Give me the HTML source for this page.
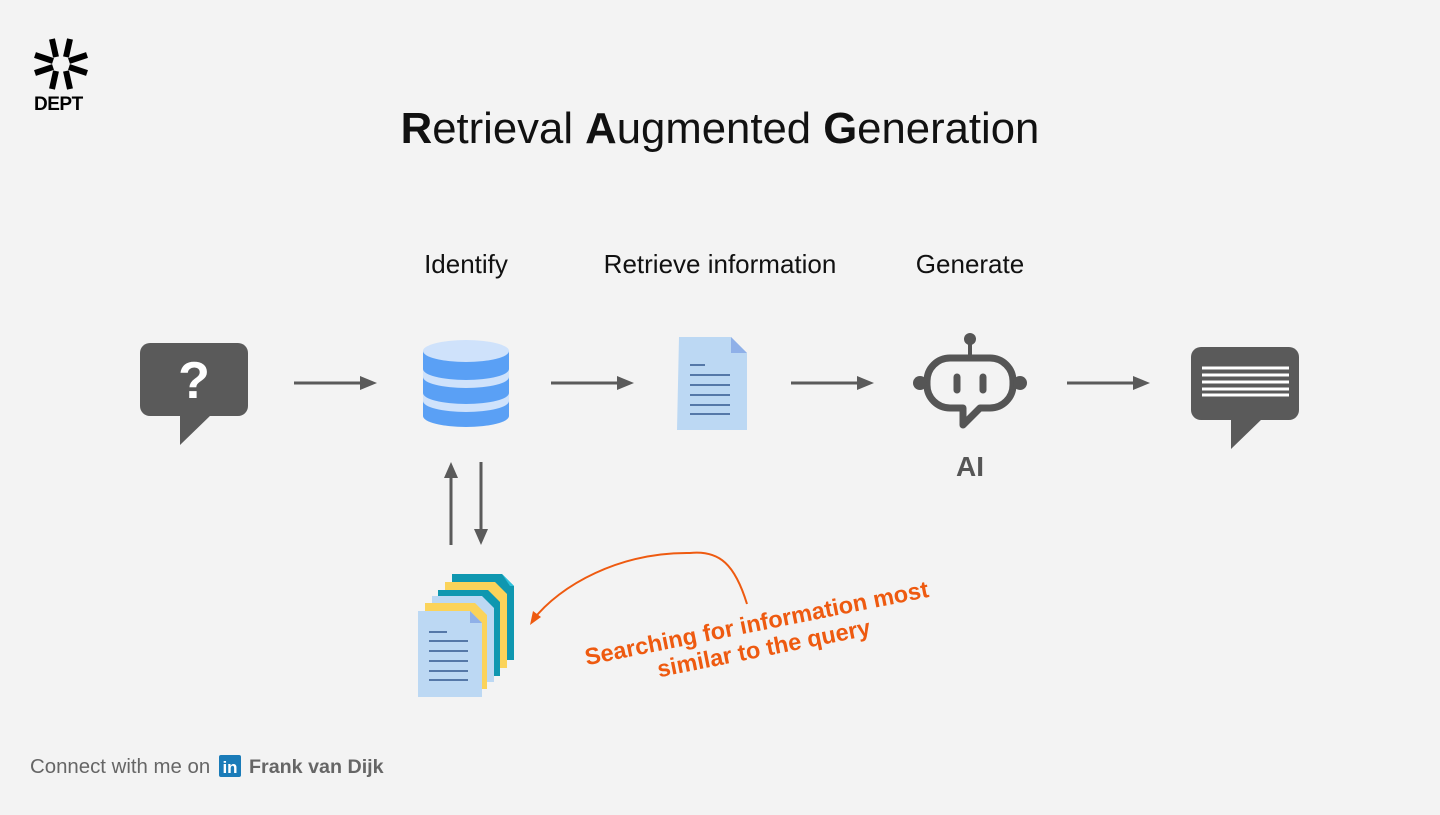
<!DOCTYPE html>
<html><head><meta charset="utf-8"><style>
html,body{margin:0;padding:0;background:#f3f3f3;}
body{width:1440px;height:810px;overflow:hidden;font-family:"Liberation Sans",Arial,sans-serif;}
</style></head><body>
<svg width="1440" height="810" viewBox="0 0 1440 810" xmlns="http://www.w3.org/2000/svg" font-family="Liberation Sans, Arial, sans-serif">
<rect width="1440" height="810" fill="#f3f3f3"/>
<!-- logo -->
<g transform="translate(61,64)" stroke="#000" stroke-width="6" stroke-linecap="butt">
  <line x1="-5" y1="-7" x2="-9" y2="-25"/><line x1="5" y1="-7" x2="9" y2="-25"/>
  <line x1="-5" y1="7" x2="-9" y2="25"/><line x1="5" y1="7" x2="9" y2="25"/>
  <line x1="-8" y1="-3" x2="-26" y2="-9"/><line x1="8" y1="-3" x2="26" y2="-9"/>
  <line x1="-8" y1="3" x2="-26" y2="9"/><line x1="8" y1="3" x2="26" y2="9"/>
</g>
<text x="34" y="110" font-size="19" font-weight="bold" fill="#000" letter-spacing="-0.5">DEPT</text>
<!-- title -->
<text x="720" y="143" font-size="43.7" text-anchor="middle" fill="#111"><tspan font-weight="bold">R</tspan>etrieval <tspan font-weight="bold">A</tspan>ugmented <tspan font-weight="bold">G</tspan>eneration</text>
<text x="466" y="273" font-size="26" text-anchor="middle" fill="#111">Identify</text>
<text x="720" y="273" font-size="26" text-anchor="middle" fill="#111">Retrieve information</text>
<text x="970" y="273" font-size="26" text-anchor="middle" fill="#111">Generate</text>
<!-- question bubble -->
<rect x="140" y="343" width="108" height="73" rx="10" fill="#5a5a5a"/>
<polygon points="180,410 180,445 212,414" fill="#5a5a5a"/>
<text x="194" y="398" font-size="52" font-weight="bold" fill="#fff" text-anchor="middle">?</text>
<!-- arrows -->
<g stroke="#5a5a5a" stroke-width="3" fill="#5a5a5a">
<line x1="294" y1="383" x2="362" y2="383"/><polygon points="360,376 377,383 360,390" stroke="none"/>
<line x1="551" y1="383" x2="619" y2="383"/><polygon points="617,376 634,383 617,390" stroke="none"/>
<line x1="791" y1="383" x2="859" y2="383"/><polygon points="857,376 874,383 857,390" stroke="none"/>
<line x1="1067" y1="383" x2="1135" y2="383"/><polygon points="1133,376 1150,383 1133,390" stroke="none"/>
<line x1="451" y1="545" x2="451" y2="476"/><polygon points="444,478 451,462 458,478" stroke="none"/>
<line x1="481" y1="462" x2="481" y2="531"/><polygon points="474,529 481,545 488,529" stroke="none"/>
</g>
<!-- database -->
<g>
<path d="M423,351 v65 a43,11 0 0 0 86,0 v-65 z" fill="#5aa0f5"/>
<path d="M423,369 a43,11 0 0 0 86,0 v8 a43,11 0 0 1 -86,0 z" fill="#cfe2fb"/>
<path d="M423,393 a43,11 0 0 0 86,0 v8 a43,11 0 0 1 -86,0 z" fill="#cfe2fb"/>
<ellipse cx="466" cy="351" rx="43" ry="11" fill="#cfe2fb"/>
</g>
<!-- doc -->
<g>
<path d="M679,337 h52 l16,16 v77 h-70 z" fill="#bcd8f3"/>
<path d="M731,337 v16 h16 z" fill="#8fb0e8"/>
<g stroke="#5578a8" stroke-width="2"><line x1="690" y1="365" x2="705" y2="365"/><line x1="690" y1="375" x2="730" y2="375"/><line x1="690" y1="385" x2="730" y2="385"/><line x1="690" y1="395" x2="730" y2="395"/><line x1="690" y1="405" x2="730" y2="405"/><line x1="690" y1="414" x2="730" y2="414"/></g>
</g>
<!-- robot -->
<g stroke="#555" fill="none" stroke-width="7" stroke-linecap="round" stroke-linejoin="round">
<path d="M950,358 h40 a23,23 0 0 1 23,23 v4 a23,23 0 0 1 -23,23 h-10 l-17,17 v-17 h-13 a23,23 0 0 1 -23,-23 v-4 a23,23 0 0 1 23,-23 z"/>
<line x1="970" y1="340" x2="970" y2="356" stroke-width="4"/>
<line x1="957" y1="377" x2="957" y2="390"/><line x1="983" y1="377" x2="983" y2="390"/>
</g>
<circle cx="970" cy="339" r="6" fill="#555"/>
<circle cx="920" cy="383" r="7" fill="#555"/><circle cx="1020" cy="383" r="7" fill="#555"/>
<text x="970" y="476" font-size="28" font-weight="bold" fill="#555" text-anchor="middle">AI</text>
<!-- answer bubble -->
<rect x="1191" y="347" width="108" height="73" rx="10" fill="#5a5a5a"/>
<polygon points="1231,414 1231,449 1263,418" fill="#5a5a5a"/>
<g stroke="#fff" stroke-width="3"><line x1="1202" y1="368" x2="1289" y2="368"/><line x1="1202" y1="375" x2="1289" y2="375"/><line x1="1202" y1="382" x2="1289" y2="382"/><line x1="1202" y1="389" x2="1289" y2="389"/><line x1="1202" y1="395" x2="1289" y2="395"/></g>
<!-- doc stack -->
<g>
<path d="M452,574 h50 l12,12 v74 h-62 z" fill="#0f97b0"/><path d="M502,574 l12,12 h-4 z" fill="#2cc0dc"/>
<path d="M445,582 h50 l12,12 v74 h-62 z" fill="#fbd35a"/>
<path d="M438,590 h50 l12,12 v74 h-62 z" fill="#0f97b0"/>
<path d="M432,596 h50 l12,12 v74 h-62 z" fill="#bcd8f3"/>
<path d="M425,603 h50 l12,12 v74 h-62 z" fill="#fbd35a"/>
<path d="M418,611 h52 l12,12 v74 h-64 z" fill="#bcd8f3"/>
<path d="M470,611 v12 h12 z" fill="#8fb0e8"/>
<g stroke="#5578a8" stroke-width="2"><line x1="429" y1="632" x2="447" y2="632"/><line x1="429" y1="641" x2="468" y2="641"/><line x1="429" y1="651" x2="468" y2="651"/><line x1="429" y1="661" x2="468" y2="661"/><line x1="429" y1="671" x2="468" y2="671"/><line x1="429" y1="680" x2="468" y2="680"/></g>
</g>
<!-- orange curve -->
<path d="M747,604 C735,565 720,550 690,553 C620,552 560,585 533,620" stroke="#ee5a10" stroke-width="2" fill="none"/>
<polygon points="530,625 533,611 541,617" fill="#ee5a10"/>
<g transform="rotate(-11.3 758 630)" fill="#ee5a10" font-weight="bold" font-size="23.5" text-anchor="middle">
<text x="758" y="631">Searching for information most</text>
<text x="760" y="657">similar to the query</text>
</g>
<!-- footer -->
<text x="30" y="773" font-size="20.4" fill="#666">Connect with me on</text>
<rect x="219" y="755" width="22" height="22" rx="2" fill="#1a7bb8"/>
<text x="230" y="773" font-size="17" font-weight="bold" fill="#fff" text-anchor="middle">in</text>
<text x="249" y="773" font-size="19.7" font-weight="bold" fill="#666">Frank van Dijk</text>
</svg>
</body></html>
